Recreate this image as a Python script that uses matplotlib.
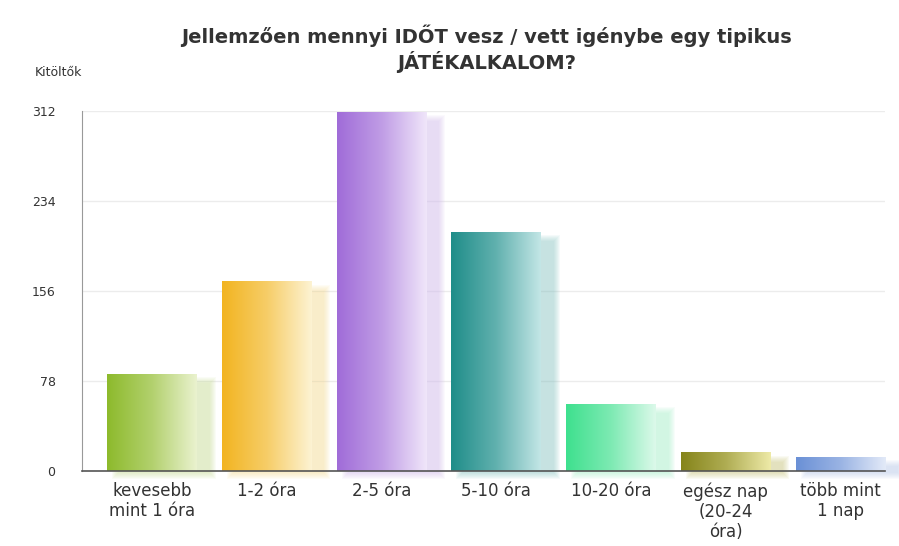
import numpy as np
import matplotlib
matplotlib.use("Agg")
import matplotlib.pyplot as plt
from matplotlib.colors import LinearSegmentedColormap, to_rgb
from matplotlib.patches import Rectangle

# Data
categories = ["kevesebb\nmint 1 óra", "1-2 óra", "2-5 óra", "5-10 óra",
              "10-20 óra", "egész nap\n(20-24\nóra)", "több mint\n1 nap"]
values = [84, 164, 311, 207, 58, 16, 12]
yticks = [0, 78, 156, 234, 312]

# left (saturated) and right (pale) colour of each bar gradient
dark = ["#8dba2c", "#f2b420", "#a06cd8", "#1f8d89", "#3ee08e", "#85841a", "#6a90d6"]
pale = ["#eaf2cf", "#fdf3d3", "#f0e6fa", "#c3e6e6", "#dcf9ea", "#eeeaa8", "#e3eaf8"]

plt.rcParams["font.family"] = ["DejaVu Sans"]

fig = plt.figure(figsize=(8.99, 5.46), dpi=100)
ax = fig.add_axes([82 / 899, 1 - 471 / 546, (885 - 82) / 899, (471 - 111) / 546])

x = np.arange(len(values))
width = 0.78
bars = ax.bar(x, values, width=width, color="none", zorder=3)

# pixel -> data conversions for shadow offsets
px_x = 1 / 114.7
px_y = 312 / 360

grad = np.linspace(0, 1, 256).reshape(1, -1)
for i, b in enumerate(bars):
    x0, w, h = b.get_x(), b.get_width(), b.get_height()
    c1, c2 = np.array(to_rgb(dark[i])), np.array(to_rgb(pale[i]))
    # soft shadow: offset right/down, blurred with stacked translucent rects
    sc = c1 * 0.4 + c2 * 0.6
    for k in range(7):
        grow = (7 - k) * 1.0
        ax.add_patch(Rectangle((x0 + 12 * px_x - grow * px_x, -1 * px_y - grow * px_y),
                               w + 2 * grow * px_x, h - 9 * px_y + 2 * grow * px_y,
                               facecolor=sc, edgecolor="none", alpha=0.08,
                               zorder=2, clip_on=False))
    cmap = LinearSegmentedColormap.from_list(f"g{i}", [c1, c1 * 0.6 + c2 * 0.4, c2])
    ax.imshow(grad, extent=[x0, x0 + w, 0, h], aspect="auto", cmap=cmap,
              zorder=3, interpolation="bilinear")

ax.set_xlim(-0.61, 6.39)
ax.set_ylim(0, 312)
ax.set_yticks(yticks)
ax.set_yticklabels([str(v) for v in yticks], fontsize=9, color="#333333")
ax.set_xticks(x)
ax.set_xticklabels(categories, fontsize=12, color="#333333", linespacing=1.15)
ax.tick_params(axis="both", length=0)
ax.tick_params(axis="y", pad=19)
ax.tick_params(axis="x", pad=8)
ax.grid(axis="y", color="#ececec", linewidth=1, zorder=0)
ax.set_axisbelow(True)

for s in ["top", "right"]:
    ax.spines[s].set_visible(False)
ax.spines["left"].set_color("#999999")
ax.spines["bottom"].set_color("#555555")
ax.spines["bottom"].set_linewidth(1.2)
ax.spines["bottom"].set_zorder(4)

fig.text(487 / 899, 1 - 49 / 546,
         "Jellemzően mennyi IDŐT vesz / vett igénybe egy tipikus\nJÁTÉKALKALOM?",
         ha="center", va="center", fontsize=14, fontweight="bold",
         color="#333333", linespacing=1.2)
fig.text(35 / 899, 1 - 73 / 546, "Kitöltők", ha="left", va="center",
         fontsize=9, color="#333333")

fig.savefig("out.png", dpi=100)
